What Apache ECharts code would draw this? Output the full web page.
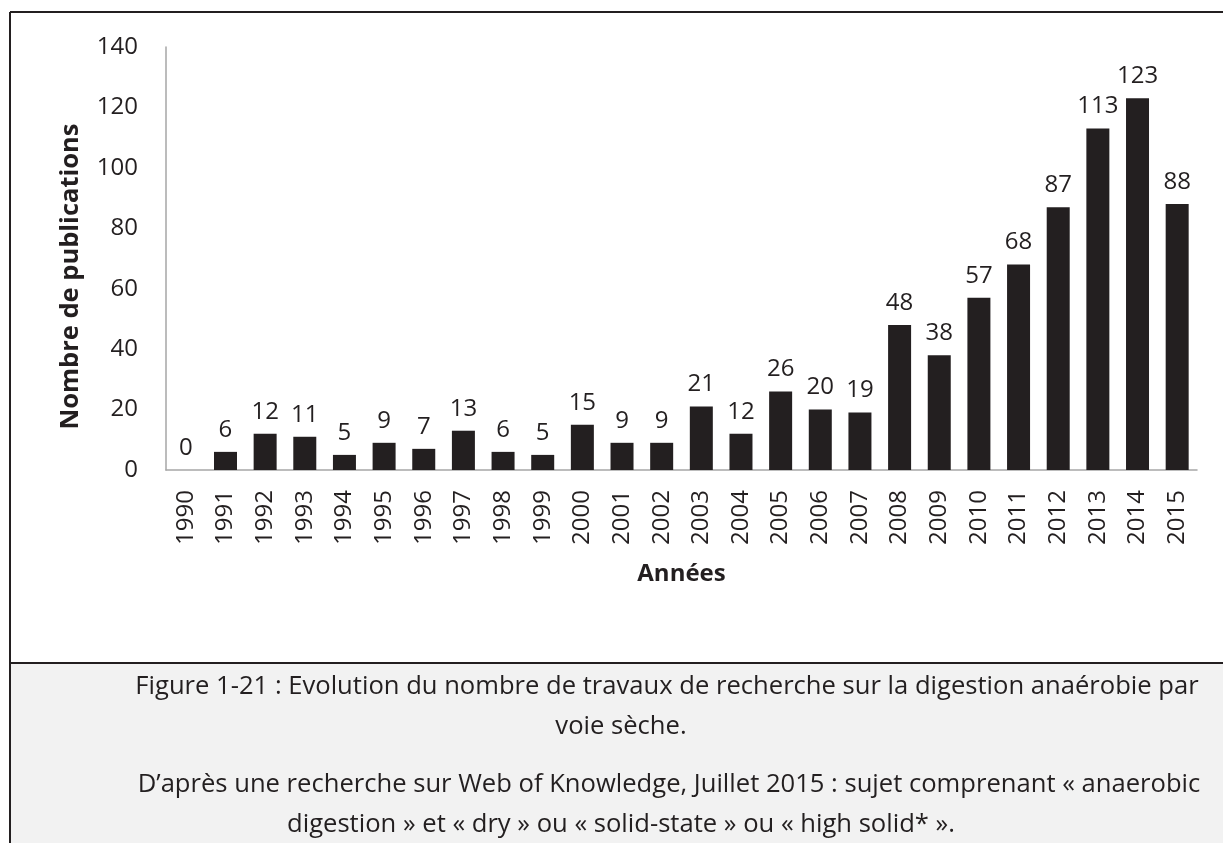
<!DOCTYPE html>
<html>
<head>
<meta charset="utf-8">
<script src="https://cdn.jsdelivr.net/npm/echarts@6/dist/echarts.min.js"></script>
<style>
  html, body { margin: 0; padding: 0; background: #fff; }
  #container { width: 1223px; height: 843px; }
</style>
</head>
<body>
<div id="container"></div>
<script>
// years on the x axis and publication counts
var years = ['1990', '1991', '1992', '1993', '1994', '1995', '1996', '1997', '1998', '1999',
  '2000', '2001', '2002', '2003', '2004', '2005', '2006', '2007', '2008', '2009',
  '2010', '2011', '2012', '2013', '2014', '2015'];
var publications = [0, 6, 12, 11, 5, 9, 7, 13, 6, 5, 15, 9, 9, 21, 12, 26, 20, 19, 48, 38,
  57, 68, 87, 113, 123, 88];

var captionLines = [
  'Figure 1-21 : Evolution du nombre de travaux de recherche sur la digestion anaérobie par',
  'voie sèche.',
  'D’après une recherche sur Web of Knowledge, Juillet 2015 : sujet comprenant « anaerobic',
  'digestion » et « dry » ou « solid-state » ou « high solid* ».'
];

var ink = '#231f20';
var font = '"Open Sans", "Liberation Sans", sans-serif';

function chart_draw() {
  var myChart = echarts.init(document.getElementById('container'));

  var captionX = [667, 621, 669, 621];
  var captionY = [687, 727, 785, 825];
  var captionText = [];
  var i;
  for (i = 0; i < captionLines.length; i++) {
    captionText.push({
      type: 'text',
      x: captionX[i],
      y: captionY[i],
      z: 10,
      style: {
        text: captionLines[i],
        fill: ink,
        font: '25.6px ' + font,
        align: 'center',
        verticalAlign: 'middle'
      }
    });
  }

  var option = {
    backgroundColor: '#ffffff',
    animation: false,
    textStyle: { fontFamily: font },
    graphic: [
      // caption background
      { type: 'rect', shape: { x: 10, y: 663, width: 1213, height: 180 }, style: { fill: '#f2f2f2' }, z: 1 },
      // frame lines
      { type: 'line', shape: { x1: 10, y1: 12, x2: 1223, y2: 12 }, style: { stroke: ink, lineWidth: 2 }, z: 5 },
      { type: 'line', shape: { x1: 10, y1: 12, x2: 10, y2: 843 }, style: { stroke: ink, lineWidth: 2 }, z: 5 },
      { type: 'line', shape: { x1: 10, y1: 663, x2: 1223, y2: 663 }, style: { stroke: ink, lineWidth: 2 }, z: 5 }
    ].concat(captionText),
    grid: {
      left: 166,
      right: 26,
      top: 47,
      bottom: 373,
      containLabel: false
    },
    xAxis: {
      type: 'category',
      data: years,
      name: 'Années',
      nameLocation: 'middle',
      nameGap: 92,
      nameTextStyle: { fontSize: 24, fontWeight: 'bold', color: ink, fontFamily: font },
      axisLine: { lineStyle: { color: '#a6a6a6', width: 1.5 } },
      axisTick: { show: false },
      axisLabel: { rotate: 90, margin: 20, fontSize: 24, color: ink, fontFamily: font, interval: 0 }
    },
    yAxis: {
      type: 'value',
      min: 0,
      max: 140,
      interval: 20,
      name: 'Nombre de publications',
      nameLocation: 'middle',
      nameGap: 82,
      nameRotate: 90,
      nameTextStyle: { fontSize: 25.5, fontWeight: 'bold', color: ink, fontFamily: font, padding: [0, 36, 0, 0] },
      axisLine: { show: true, lineStyle: { color: '#a6a6a6', width: 1.5 } },
      axisTick: { show: false },
      splitLine: { show: false },
      axisLabel: { margin: 28, fontSize: 24, color: ink, fontFamily: font }
    },
    series: [{
      name: 'Nombre de publications',
      type: 'bar',
      data: publications,
      barCategoryGap: '42%',
      itemStyle: { color: ink },
      label: {
        show: true,
        position: 'top',
        distance: 10,
        fontSize: 24,
        color: ink,
        fontFamily: font
      }
    }]
  };

  myChart.setOption(option);
}

chart_draw();
</script>
</body>
</html>
